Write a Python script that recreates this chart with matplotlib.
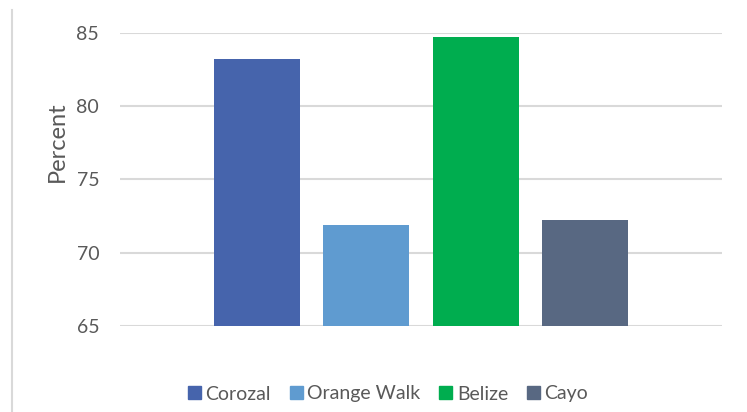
import matplotlib
matplotlib.use("Agg")
import matplotlib.pyplot as plt
from matplotlib.lines import Line2D
from matplotlib.patches import Patch

categories = ["Corozal", "Orange Walk", "Belize", "Cayo"]
values = [83.2, 71.9, 84.7, 72.2]
colors = ["#4664AC", "#5F9BD0", "#00AD4F", "#586882"]
yticks = [65, 70, 75, 80, 85]

plt.rcParams['font.family'] = ['Lato', 'DejaVu Sans']

fig = plt.figure(figsize=(7.47, 4.12), dpi=100)
ax = fig.add_axes([0.1606, 0.2087, 0.8059, 0.7119])

x = list(range(len(categories)))
ax.bar(x, [v - 65 for v in values], bottom=65, width=0.785, color=colors, zorder=3)
ax.set_ylim(65, 85)
ax.set_xlim(-1.247, 3 + 1.247)
ax.set_yticks(yticks)
ax.set_yticklabels([str(t) for t in yticks], fontsize=14, color="#595959")
ax.set_xticks([])
ax.tick_params(axis='y', length=0, pad=15)
for s in ax.spines.values():
    s.set_visible(False)
ax.yaxis.grid(True, color="#D9D9D9", linewidth=1.5, zorder=0)
ax.set_axisbelow(True)

fig.text(57/747, 1 - 142/412, "Percent", rotation=90, ha="center", va="center",
         fontsize=17, color="#595959")

fig.add_artist(Line2D([12/747, 12/747], [0, 1 - 10/412], transform=fig.transFigure,
                      color="#D9D9D9", linewidth=1.5))

handles = [Patch(facecolor=c, edgecolor=c) for c in colors]
fig.legend(handles, categories, loc="center", bbox_to_anchor=(388/747, 1 - 394/412),
           ncol=4, frameon=False, fontsize=14, handlelength=0.67, handleheight=0.67,
           handletextpad=0.25, columnspacing=0.95, labelcolor="#595959")

fig.savefig("out.png", dpi=100)
